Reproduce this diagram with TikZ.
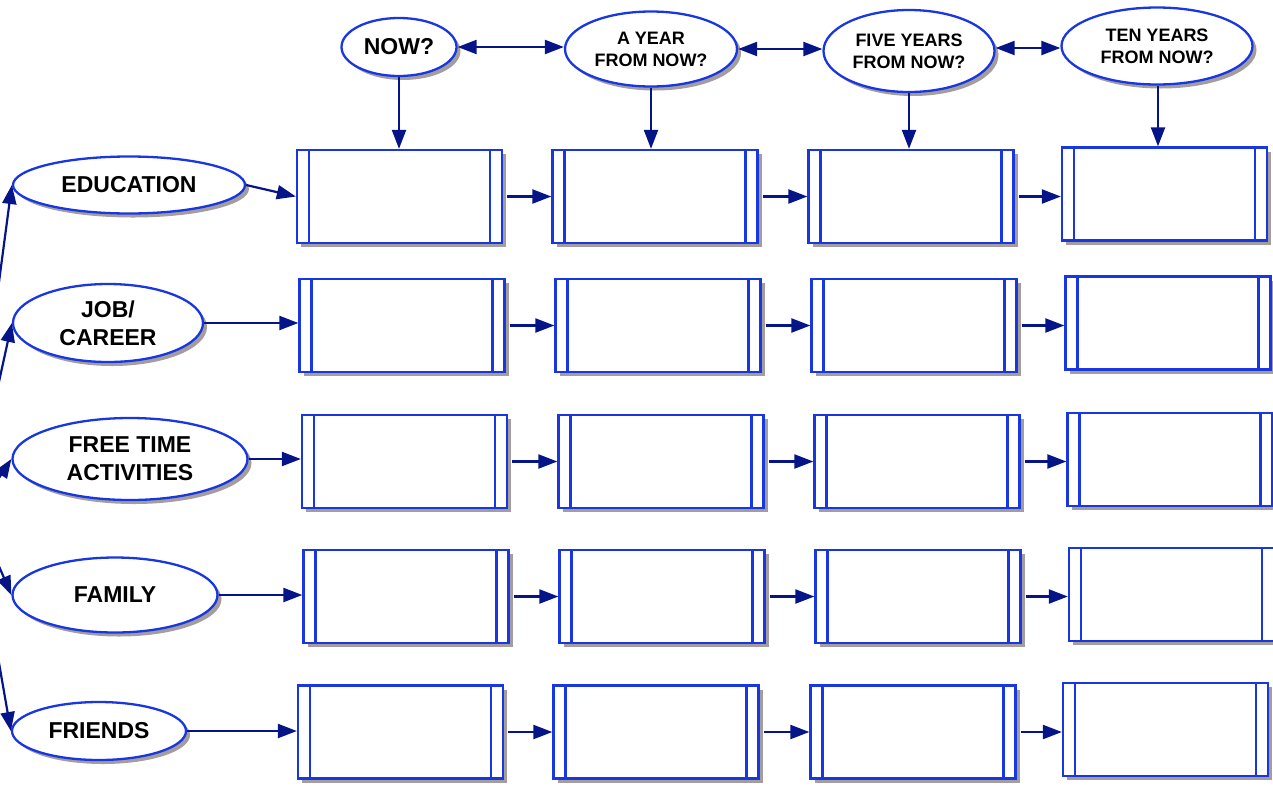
\documentclass[tikz,border=0pt]{standalone}
\usepackage{fontspec}
\setmainfont{Liberation Sans}
\usetikzlibrary{shapes.geometric,shadows,arrows.meta}
\definecolor{navy}{RGB}{5,20,135}
\definecolor{edgeblue}{RGB}{25,55,225}
\definecolor{shadowc}{RGB}{163,157,157}
\tikzset{
  ell/.style={ellipse, draw=edgeblue, line width=2.3pt, fill=white, inner sep=0pt,
    align=center, text=black,
    drop shadow={shadow xshift=4pt, shadow yshift=-4pt, fill=shadowc, opacity=1}},
  bigtxt/.style={font=\fontsize{23}{28}\selectfont\bfseries},
  smalltxt/.style={font=\fontsize{18}{22}\selectfont\bfseries},
  lifebox/.style={rectangle, draw=edgeblue, line width=2.3pt, fill=white, inner sep=0pt,
    minimum width=205pt, minimum height=93pt,
    drop shadow={shadow xshift=4pt, shadow yshift=-4pt, fill=shadowc, opacity=1},
    path picture={\draw[edgeblue, line width=2.3pt]
      ([xshift=12pt]path picture bounding box.north west) -- ([xshift=12pt]path picture bounding box.south west)
      ([xshift=-12pt]path picture bounding box.north east) -- ([xshift=-12pt]path picture bounding box.south east);}},
  arr/.style={draw=navy, line width=2.2pt, -{Triangle[length=19pt,width=14pt]}},
  darr/.style={draw=navy, line width=2.2pt, {Triangle[length=19pt,width=14pt]}-{Triangle[length=19pt,width=14pt]}}
}
\begin{document}
\begin{tikzpicture}[x=1pt,y=-1pt]
\useasboundingbox (0,0) rectangle (1273,785);
\clip (0,0) rectangle (1273,785);

% top ellipses
\node[ell, bigtxt, minimum width=115pt, minimum height=58pt] (now) at (399,47) {NOW?};
\node[ell, smalltxt, minimum width=172pt, minimum height=75pt] (year) at (651,49) {A YEAR\\FROM NOW?};
\node[ell, smalltxt, minimum width=171pt, minimum height=82pt] (five) at (909,51) {FIVE YEARS\\FROM NOW?};
\node[ell, smalltxt, minimum width=191pt, minimum height=77pt] (ten) at (1157,46) {TEN YEARS\\FROM NOW?};

% left ellipses
\node[ell, bigtxt, minimum width=232pt, minimum height=57pt] (edu) at (129,185) {EDUCATION};
\node[ell, bigtxt, minimum width=190pt, minimum height=78pt] (job) at (108,323) {JOB/\\CAREER};
\node[ell, bigtxt, minimum width=235pt, minimum height=82pt] (free) at (130,459) {FREE TIME\\ACTIVITIES};
\node[ell, bigtxt, minimum width=205pt, minimum height=75pt] (fam) at (115,595) {FAMILY};
\node[ell, bigtxt, minimum width=174pt, minimum height=58pt] (fri) at (99,731) {FRIENDS};

% boxes
\node[lifebox] (b11) at (399.5,196.5) {};
\node[lifebox] (b12) at (655,196.5) {};
\node[lifebox] (b13) at (911,196.5) {};
\node[lifebox] (b14) at (1164.5,194) {};

\node[lifebox] (b21) at (402,325.5) {};
\node[lifebox] (b22) at (658,325.5) {};
\node[lifebox] (b23) at (914,325.5) {};
\node[lifebox] (b24) at (1168,323) {};

\node[lifebox] (b31) at (404.5,461.5) {};
\node[lifebox] (b32) at (661,461.5) {};
\node[lifebox] (b33) at (917,461.5) {};
\node[lifebox] (b34) at (1170,459.5) {};

\node[lifebox] (b41) at (406,596.5) {};
\node[lifebox] (b42) at (662,596.5) {};
\node[lifebox] (b43) at (918,596.5) {};
\node[lifebox] (b44) at (1171.5,594.5) {};

\node[lifebox] (b51) at (400.5,732) {};
\node[lifebox] (b52) at (656,732) {};
\node[lifebox] (b53) at (913,732) {};
\node[lifebox] (b54) at (1165.5,729.5) {};

% top double arrows (horizontal)
\draw[darr] (now.east) -- (now.east -| year.west);
\draw[darr] (year.east) -- (year.east -| five.west);
\draw[darr] (ten.west |- five.east) ++(0,-3) coordinate (t3) (five.east |- t3) -- (t3);

% vertical arrows
\draw[arr] (now.south) -- (now.south |- b11.north);
\draw[arr] (year.south) -- (year.south |- b12.north);
\draw[arr] (five.south) -- (five.south |- b13.north);
\draw[arr] ([xshift=1pt]ten.south) -- ([xshift=1pt]ten.south |- b14.north);

% ellipse to first box
\draw[arr] (edu.east) -- (b11.west);
\draw[arr] (job.east) -- (job.east -| b21.west);
\draw[arr] (free.east) -- (free.east -| b31.west);
\draw[arr] (fam.east) -- (fam.east -| b41.west);
\draw[arr] (fri.east) -- (fri.east -| b51.west);

% box to box
\foreach \r in {1,...,5}{
  \draw[arr, shorten <=4pt] (b\r1.east) -- (b\r1.east -| b\r2.west);
  \draw[arr, shorten <=4pt] (b\r2.east) -- (b\r2.east -| b\r3.west);
  \draw[arr, shorten <=4pt] (b\r3.east) -- (b\r3.east -| b\r4.west);
}

% incoming arrows from off-page
\coordinate (s1) at (-5,312);
\coordinate (s2) at (-5,400);
\coordinate (s3) at (-5,484);
\coordinate (s4) at (-5,557);
\coordinate (s5) at (-5,640);
\draw[arr] (s1) -- (edu.west);
\draw[arr] (s2) -- (job.west);
\draw[arr] (s3) -- (free.west);
\draw[arr] (s4) -- (fam.west);
\draw[arr] (s5) -- (fri.west);
\end{tikzpicture}
\end{document}
